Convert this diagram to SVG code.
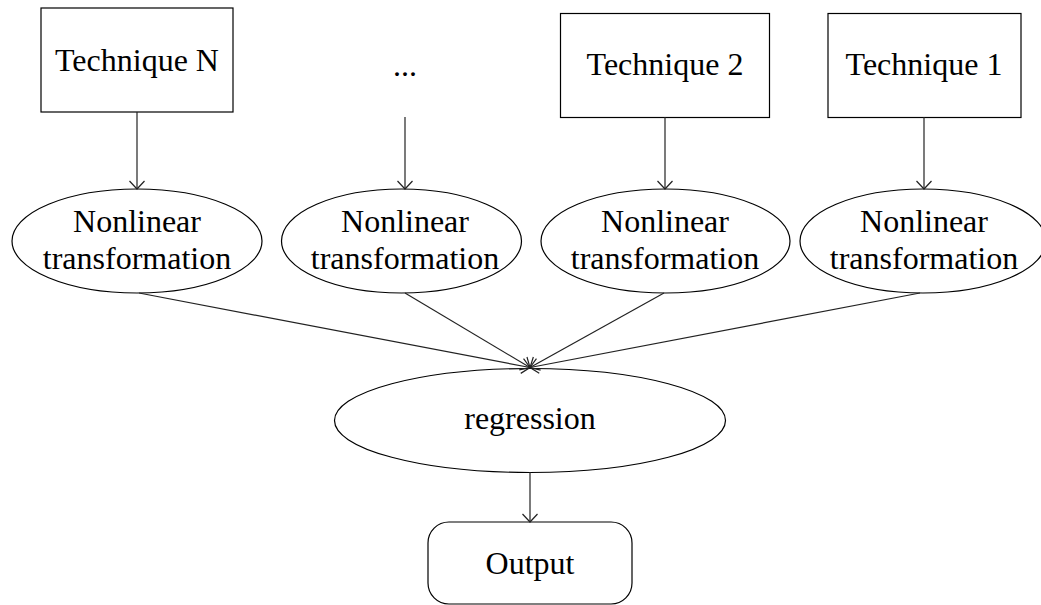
<svg xmlns="http://www.w3.org/2000/svg" width="1041" height="605" viewBox="0 0 1041 605">
<defs>
<style>
.shape{fill:#fff;stroke:#000;stroke-width:1.2}
.conn{fill:none;stroke:#222;stroke-width:1.2}
text{font-family:"Liberation Serif","Times New Roman",serif;font-size:32px;fill:#000;text-anchor:middle}
</style>
<marker id="v" markerWidth="20" markerHeight="20" refX="10" refY="10" orient="auto" markerUnits="userSpaceOnUse" viewBox="0 0 20 20">
<path d="M2,2.5 L10,10 L2,17.5" fill="none" stroke="#222" stroke-width="1.2"/>
</marker>
</defs>
<rect width="1041" height="605" fill="#fff"/>
<g id="techN">
<rect class="shape" x="41" y="8" width="192" height="104"/>
<text x="137" y="71">Technique N</text>
</g>
<g id="dots">
<text x="405" y="76">...</text>
</g>
<g id="tech2">
<rect class="shape" x="560.5" y="13.5" width="209" height="104"/>
<text x="665" y="75">Technique 2</text>
</g>
<g id="tech1">
<rect class="shape" x="828" y="13.5" width="193" height="104"/>
<text x="924" y="75">Technique 1</text>
</g>
<g id="nlN">
<ellipse class="shape" cx="137" cy="241" rx="125" ry="52"/>
<text x="137" y="232">Nonlinear</text>
<text x="137" y="269">transformation</text>
</g>
<g id="nl3">
<ellipse class="shape" cx="401.5" cy="241" rx="120" ry="52"/>
<text x="405" y="232">Nonlinear</text>
<text x="405" y="269">transformation</text>
</g>
<g id="nl2">
<ellipse class="shape" cx="665.5" cy="241" rx="124.5" ry="52"/>
<text x="665" y="232">Nonlinear</text>
<text x="665" y="269">transformation</text>
</g>
<g id="nl1">
<ellipse class="shape" cx="923" cy="241" rx="123" ry="52"/>
<text x="924" y="232">Nonlinear</text>
<text x="924" y="269">transformation</text>
</g>
<g id="regression">
<ellipse class="shape" cx="530" cy="420.5" rx="195.5" ry="52"/>
<text x="530" y="429">regression</text>
</g>
<g id="output">
<rect class="shape" x="428" y="522" width="204" height="82" rx="21" ry="21"/>
<text x="530" y="574">Output</text>
</g>
<g id="connectors">
<line class="conn" x1="137" y1="112" x2="137" y2="189" marker-end="url(#v)"/>
<line class="conn" x1="405" y1="117" x2="405" y2="189" marker-end="url(#v)"/>
<line class="conn" x1="665" y1="117" x2="665" y2="189" marker-end="url(#v)"/>
<line class="conn" x1="924" y1="117" x2="924" y2="189" marker-end="url(#v)"/>
<line class="conn" x1="139" y1="293" x2="530" y2="367.5" marker-end="url(#v)"/>
<line class="conn" x1="405" y1="293" x2="530" y2="367.5" marker-end="url(#v)"/>
<line class="conn" x1="664" y1="293" x2="530" y2="367.5" marker-end="url(#v)"/>
<line class="conn" x1="920" y1="293" x2="530" y2="367.5" marker-end="url(#v)"/>
<line class="conn" x1="530" y1="472" x2="530" y2="522" marker-end="url(#v)"/>
</g>
</svg>
